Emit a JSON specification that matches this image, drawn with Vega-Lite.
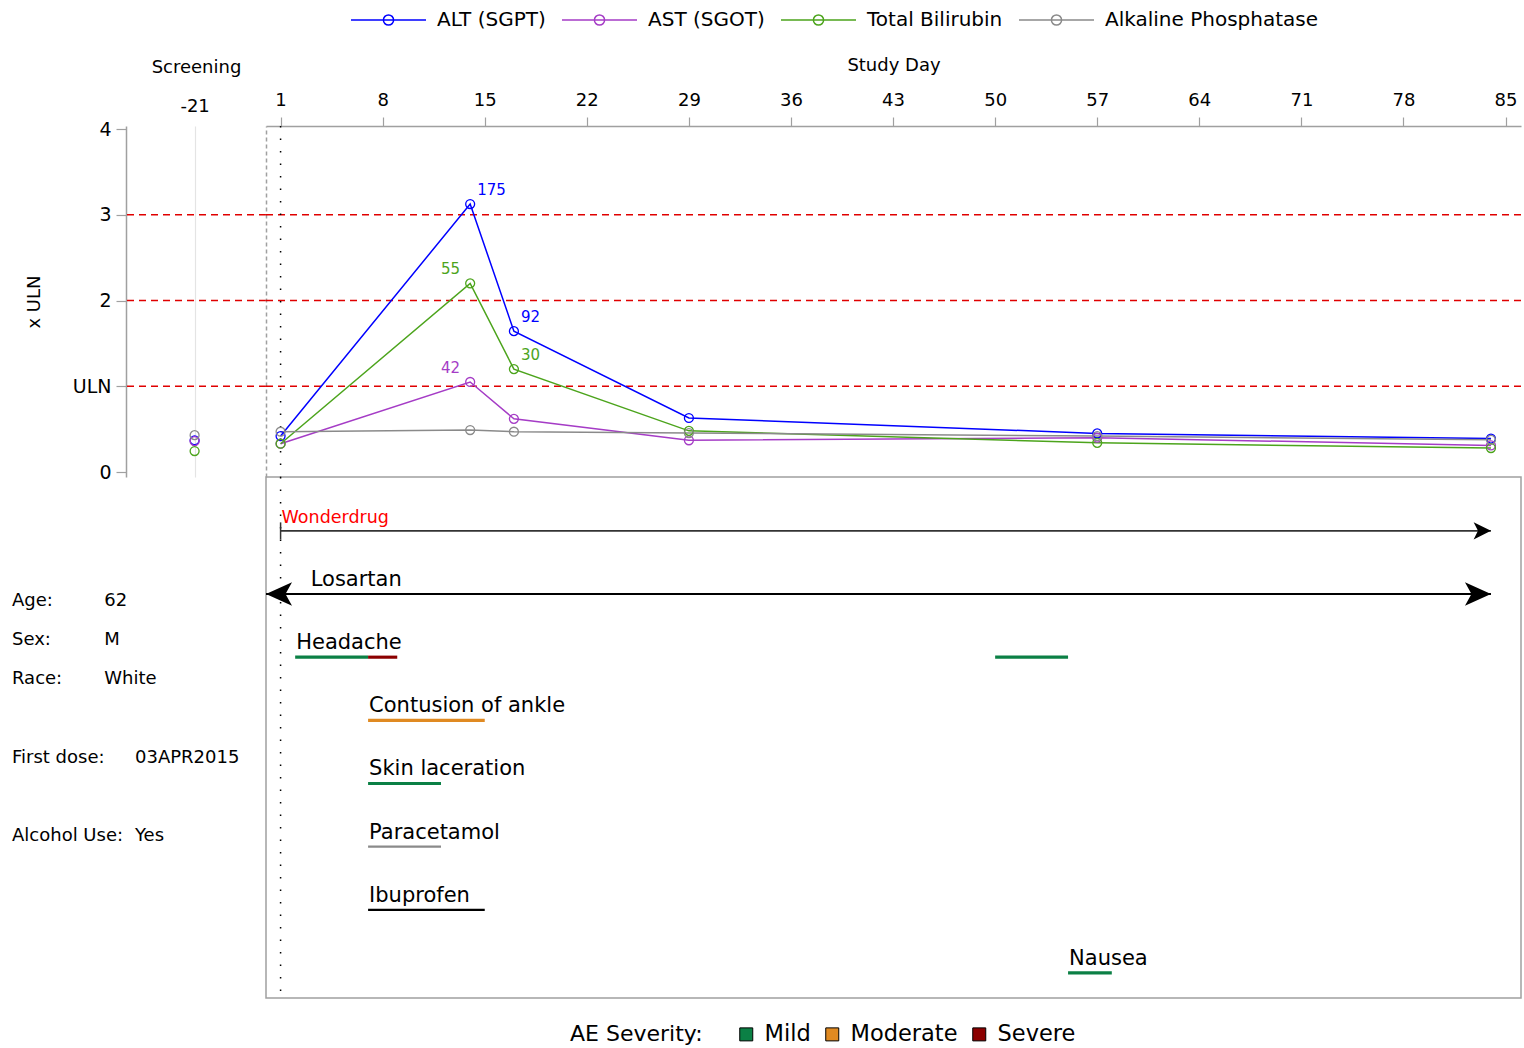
{
  "$schema": "https://vega.github.io/schema/vega-lite/v6.json",
  "background": "white",
  "padding": {"left": 12, "top": 9, "right": 2, "bottom": 2},
  "config": {
    "font": "DejaVu Sans",
    "view": {"stroke": null},
    "axis": {"labelColor": "#000", "titleColor": "#000", "titleFontWeight": "normal", "grid": false},
    "legend": {"labelColor": "#000", "titleColor": "#000"},
    "concat": {"spacing": 0}
  },
  "datasets": {
    "labs": [
      {"test": "ALT (SGPT)", "day": -21, "xuln": 0.37, "result": 21},
      {"test": "ALT (SGPT)", "day": 1, "xuln": 0.42, "result": 24},
      {"test": "ALT (SGPT)", "day": 14, "xuln": 3.125, "result": 175},
      {"test": "ALT (SGPT)", "day": 17, "xuln": 1.643, "result": 92},
      {"test": "ALT (SGPT)", "day": 29, "xuln": 0.63, "result": 35},
      {"test": "ALT (SGPT)", "day": 57, "xuln": 0.45, "result": 25},
      {"test": "ALT (SGPT)", "day": 84, "xuln": 0.39, "result": 22},
      {"test": "AST (SGOT)", "day": -21, "xuln": 0.36, "result": 15},
      {"test": "AST (SGOT)", "day": 1, "xuln": 0.33, "result": 13},
      {"test": "AST (SGOT)", "day": 14, "xuln": 1.05, "result": 42},
      {"test": "AST (SGOT)", "day": 17, "xuln": 0.62, "result": 25},
      {"test": "AST (SGOT)", "day": 29, "xuln": 0.37, "result": 15},
      {"test": "AST (SGOT)", "day": 57, "xuln": 0.4, "result": 16},
      {"test": "AST (SGOT)", "day": 84, "xuln": 0.31, "result": 12},
      {"test": "Total Bilirubin", "day": -21, "xuln": 0.245, "result": 6},
      {"test": "Total Bilirubin", "day": 1, "xuln": 0.33, "result": 8},
      {"test": "Total Bilirubin", "day": 14, "xuln": 2.2, "result": 55},
      {"test": "Total Bilirubin", "day": 17, "xuln": 1.2, "result": 30},
      {"test": "Total Bilirubin", "day": 29, "xuln": 0.48, "result": 12},
      {"test": "Total Bilirubin", "day": 57, "xuln": 0.34, "result": 9},
      {"test": "Total Bilirubin", "day": 84, "xuln": 0.28, "result": 7},
      {"test": "Alkaline Phosphatase", "day": -21, "xuln": 0.43, "result": 52},
      {"test": "Alkaline Phosphatase", "day": 1, "xuln": 0.47, "result": 56},
      {"test": "Alkaline Phosphatase", "day": 14, "xuln": 0.49, "result": 59},
      {"test": "Alkaline Phosphatase", "day": 17, "xuln": 0.47, "result": 56},
      {"test": "Alkaline Phosphatase", "day": 29, "xuln": 0.455, "result": 55},
      {"test": "Alkaline Phosphatase", "day": 57, "xuln": 0.42, "result": 50},
      {"test": "Alkaline Phosphatase", "day": 84, "xuln": 0.375, "result": 45}
    ],
    "refs": [{"level": 1}, {"level": 2}, {"level": 3}],
    "dose1": [{"studyDay": 1}],
    "exposure": [{"item": "Wonderdrug", "start": 1, "end": 84, "ongoing": true}],
    "conmeds": [
      {"item": "Losartan", "start": 0, "end": 84, "priorToStudy": true, "ongoing": true},
      {"item": "Paracetamol", "start": 7, "end": 12, "priorToStudy": false, "ongoing": false},
      {"item": "Ibuprofen", "start": 7, "end": 15, "priorToStudy": false, "ongoing": false}
    ],
    "aes": [
      {"item": "Headache", "severity": "Mild", "start": 2, "end": 7},
      {"item": "Headache", "severity": "Severe", "start": 7, "end": 9},
      {"item": "Headache", "severity": "Mild", "start": 50, "end": 55},
      {"item": "Contusion of ankle", "severity": "Moderate", "start": 7, "end": 15},
      {"item": "Skin laceration", "severity": "Mild", "start": 7, "end": 12},
      {"item": "Nausea", "severity": "Mild", "start": 55, "end": 58}
    ],
    "rowLabels": [
      {"item": "Wonderdrug", "type": "Study drug", "day": 1},
      {"item": "Losartan", "type": "Concomitant medication", "day": 3},
      {"item": "Headache", "type": "Adverse event", "day": 2},
      {"item": "Contusion of ankle", "type": "Adverse event", "day": 7},
      {"item": "Skin laceration", "type": "Adverse event", "day": 7},
      {"item": "Paracetamol", "type": "Concomitant medication", "day": 7},
      {"item": "Ibuprofen", "type": "Concomitant medication", "day": 7},
      {"item": "Nausea", "type": "Adverse event", "day": 55}
    ],
    "demog": [
      {"line": "Age:", "col": "label", "text": "Age:"},
      {"line": "Age:", "col": "value", "text": "62"},
      {"line": "Sex:", "col": "label", "text": "Sex:"},
      {"line": "Sex:", "col": "value", "text": "M"},
      {"line": "Race:", "col": "label", "text": "Race:"},
      {"line": "Race:", "col": "value", "text": "White"},
      {"line": "First dose:", "col": "label", "text": "First dose:"},
      {"line": "First dose:", "col": "value2", "text": "03APR2015"},
      {"line": "Alcohol Use:", "col": "label", "text": "Alcohol Use:"},
      {"line": "Alcohol Use:", "col": "value2", "text": "Yes"}
    ]
  },
  "columns": 2,
  "spacing": 0,
  "bounds": "flush",
  "resolve": {"scale": {"color": "independent"}, "legend": {"color": "independent"}},
  "concat": [
    {
      "width": 140,
      "height": 351,
      "layer": [
        {
          "data": {"name": "refs"},
          "mark": {"type": "rule", "color": "#e00000", "strokeDash": [7, 5], "strokeWidth": 1.5},
          "encoding": {
            "y": {
              "field": "level", "type": "quantitative",
              "scale": {"domain": [-0.058, 4.035], "nice": false, "zero": false},
              "axis": {
                "orient": "left", "values": [0, 1, 2, 3, 4], "format": "d",
                "labelExpr": "datum.value == 1 ? 'ULN' : datum.label",
                "tickSize": 10, "labelPadding": 5, "labelFontSize": 19,
                "domainColor": "#a0a0a0", "domainWidth": 1.5, "tickColor": "#a0a0a0", "tickWidth": 1.2,
                "title": "x ULN", "titleFontSize": 18, "titlePadding": 29, "grid": false
              }
            }
          }
        },
        {
          "data": {"name": "labs"},
          "transform": [{"filter": "datum.day < 0"}],
          "mark": {"type": "point", "filled": false, "size": 80, "strokeWidth": 1.3, "opacity": 1},
          "encoding": {
            "x": {
              "field": "day", "type": "quantitative",
              "scale": {"domain": [-25.9, -15.9], "nice": false, "zero": false},
              "axis": {
                "orient": "top", "values": [-21], "ticks": false, "tickSize": 0, "domain": false,
                "labelExpr": "toString(datum.value)",
                "grid": true, "gridColor": "#e4e4e4", "gridWidth": 1.2,
                "labelPadding": 11, "labelFontSize": 18,
                "title": "Screening", "titleFontSize": 18, "titlePadding": 21
              }
            },
            "y": {"field": "xuln", "type": "quantitative"},
            "color": {
              "field": "test", "type": "nominal",
              "scale": {"domain": ["ALT (SGPT)", "AST (SGOT)", "Total Bilirubin", "Alkaline Phosphatase"], "range": ["#0000ff", "#a53cc6", "#4ca41c", "#8a8a8a"]},
              "legend": null
            }
          }
        }
      ]
    },
    {
      "width": 1255,
      "height": 351,
      "layer": [
        {
          "data": {"name": "refs"},
          "mark": {"type": "rule", "color": "#e00000", "strokeDash": [7, 5], "strokeWidth": 1.5},
          "encoding": {
            "y": {
              "field": "level", "type": "quantitative",
              "scale": {"domain": [-0.058, 4.035], "nice": false, "zero": false},
              "axis": {"labels": false, "ticks": false, "title": null, "grid": false, "domainDash": [4, 3], "domainColor": "#a0a0a0", "domainWidth": 1.5}
            }
          }
        },
        {
          "data": {"name": "dose1"},
          "mark": {"type": "rule", "color": "#000", "strokeDash": [1.5, 11], "strokeWidth": 1.5},
          "encoding": {
            "x": {"field": "studyDay", "type": "quantitative"}
          }
        },
        {
          "data": {"name": "labs"},
          "transform": [{"filter": "datum.day > 0"}],
          "mark": {"type": "line", "strokeWidth": 1.5},
          "encoding": {
            "x": {
              "field": "day", "type": "quantitative",
              "scale": {"domain": [0, 86.06], "nice": false, "zero": false},
              "axis": {
                "orient": "top", "values": [1, 8, 15, 22, 29, 36, 43, 50, 57, 64, 71, 78, 85],
                "title": "Study Day", "tickSize": 9, "labelPadding": 8, "titlePadding": 17,
                "labelFontSize": 18, "titleFontSize": 18, "labelFlush": false, "labelOverlap": false,
                "domainColor": "#a0a0a0", "domainWidth": 1.5, "tickColor": "#a0a0a0", "tickWidth": 1.2, "grid": false
              }
            },
            "y": {"field": "xuln", "type": "quantitative"},
            "color": {
              "field": "test", "type": "nominal",
              "scale": {"domain": ["ALT (SGPT)", "AST (SGOT)", "Total Bilirubin", "Alkaline Phosphatase"], "range": ["#0000ff", "#a53cc6", "#4ca41c", "#8a8a8a"]},
              "legend": {
                "orient": "none", "legendX": 84, "legendY": -117, "direction": "horizontal", "columns": 4,
                "title": null, "labelFontSize": 20, "labelOffset": 65, "columnPadding": 13, "labelLimit": 0,
                "symbolType": "M-1,0H6.5M3.26,0A0.51,0.51,0,0,1,2.24,0A0.51,0.51,0,0,0,3.26,0A0.51,0.51,0,0,0,2.24,0A0.51,0.51,0,0,1,3.26,0",
                "symbolSize": 400, "symbolStrokeWidth": 1.5
              }
            }
          }
        },
        {
          "data": {"name": "labs"},
          "transform": [{"filter": "datum.day > 0"}],
          "mark": {"type": "point", "filled": false, "size": 80, "strokeWidth": 1.3, "opacity": 1},
          "encoding": {
            "x": {"field": "day", "type": "quantitative"},
            "y": {"field": "xuln", "type": "quantitative"},
            "color": {"field": "test", "type": "nominal", "legend": null}
          }
        },
        {
          "data": {"name": "labs"},
          "transform": [{"filter": "datum.day > 0 && datum.xuln > 1 && (datum.test == 'ALT (SGPT)' || datum.day == 17)"}],
          "mark": {"type": "text", "align": "left", "baseline": "middle", "dx": 7, "dy": -14, "fontSize": 15},
          "encoding": {
            "x": {"field": "day", "type": "quantitative"},
            "y": {"field": "xuln", "type": "quantitative"},
            "text": {"field": "result"},
            "color": {"field": "test", "type": "nominal", "legend": null}
          }
        },
        {
          "data": {"name": "labs"},
          "transform": [{"filter": "datum.day > 0 && datum.xuln > 1 && datum.test != 'ALT (SGPT)' && datum.day != 17"}],
          "mark": {"type": "text", "align": "right", "baseline": "middle", "dx": -10, "dy": -14, "fontSize": 15},
          "encoding": {
            "x": {"field": "day", "type": "quantitative"},
            "y": {"field": "xuln", "type": "quantitative"},
            "text": {"field": "result"},
            "color": {"field": "test", "type": "nominal", "legend": null}
          }
        }
      ]
    },
    {
      "width": 140,
      "height": 521,
      "data": {"name": "demog"},
      "mark": {"type": "text", "align": "left", "baseline": "middle", "fontSize": 18, "color": "#000"},
      "encoding": {
        "x": {
          "field": "col", "type": "nominal",
          "scale": {"type": "point", "domain": ["label", "gap1", "gap2", "value", "value2"], "range": [-114, 9], "padding": 0},
          "axis": null
        },
        "y": {
          "field": "line", "type": "nominal",
          "scale": {"type": "point", "domain": ["Age:", "Sex:", "Race:", "gap1", "First dose:", "gap2", "Alcohol Use:"], "range": [124, 359], "padding": 0},
          "axis": null
        },
        "text": {"field": "text"}
      }
    },
    {
      "width": 1255,
      "height": 521,
      "view": {"stroke": "#a0a0a0", "strokeWidth": 1.5},
      "layer": [
        {
          "data": {"name": "dose1"},
          "mark": {"type": "rule", "color": "#000", "strokeDash": [1.5, 11], "strokeWidth": 1.5},
          "encoding": {
            "x": {"field": "studyDay", "type": "quantitative", "scale": {"domain": [0, 86.06], "nice": false, "zero": false}, "axis": null}
          }
        },
        {
          "data": {"name": "exposure"},
          "mark": {"type": "rule", "color": "#333", "strokeWidth": 1.8},
          "encoding": {
            "x": {"field": "start", "type": "quantitative"},
            "x2": {"field": "end"},
            "y": {
              "field": "item", "type": "nominal",
              "scale": {"type": "band", "domain": ["Wonderdrug", "Losartan", "Headache", "Contusion of ankle", "Skin laceration", "Paracetamol", "Ibuprofen", "Nausea"], "paddingInner": 0.95, "paddingOuter": 0.6, "align": 0.69},
              "axis": null
            }
          }
        },
        {
          "data": {"name": "conmeds"},
          "mark": {"type": "rule", "strokeWidth": 2.2},
          "encoding": {
            "x": {"field": "start", "type": "quantitative"},
            "x2": {"field": "end"},
            "y": {"field": "item", "type": "nominal"},
            "stroke": {"field": "item", "type": "nominal", "scale": {"domain": ["Losartan", "Paracetamol", "Ibuprofen"], "range": ["#000000", "#8a8a8a", "#000000"]}, "legend": null}
          }
        },
        {
          "data": {"name": "aes"},
          "mark": {"type": "bar"},
          "encoding": {
            "x": {"field": "start", "type": "quantitative"},
            "x2": {"field": "end"},
            "y": {"field": "item", "type": "nominal"},
            "color": {
              "field": "severity", "type": "nominal",
              "scale": {"domain": ["Mild", "Moderate", "Severe"], "range": ["#0b8045", "#e08a22", "#8b0000"]},
              "legend": {
                "orient": "none", "legendX": 304, "legendY": 546, "direction": "horizontal", "columns": 3,
                "title": "AE Severity:", "titleOrient": "left", "titleFontSize": 22, "titleFontWeight": "normal", "titlePadding": 32,
                "labelFontSize": 22.5, "labelOffset": 7, "columnPadding": 10,
                "symbolType": "square", "symbolSize": 169, "symbolStrokeColor": "#000", "symbolStrokeWidth": 1, "symbolOpacity": 1,
                "encode": {"symbols": {"update": {"stroke": {"value": "#000"}, "strokeWidth": {"value": 1}}}}
              }
            }
          }
        },
        {
          "data": {"name": "exposure"},
          "transform": [{"filter": "datum.ongoing"}],
          "mark": {"type": "point", "shape": "M0,0L-2,-1L-1.5,0L-2,1Z", "size": 300, "filled": true, "color": "#000", "opacity": 1},
          "encoding": {
            "x": {"field": "end", "type": "quantitative"},
            "y": {"field": "item", "type": "nominal"}
          }
        },
        {
          "data": {"name": "exposure"},
          "mark": {"type": "tick", "orient": "vertical", "size": 17, "thickness": 1.5, "color": "#333", "opacity": 1},
          "encoding": {
            "x": {"field": "start", "type": "quantitative"},
            "y": {"field": "item", "type": "nominal"}
          }
        },
        {
          "data": {"name": "conmeds"},
          "transform": [{"filter": "datum.ongoing"}],
          "mark": {"type": "point", "shape": "M0,0L-2,-0.9L-1.5,0L-2,0.9Z", "size": 676, "filled": true, "color": "#000", "opacity": 1},
          "encoding": {
            "x": {"field": "end", "type": "quantitative"},
            "y": {"field": "item", "type": "nominal"}
          }
        },
        {
          "data": {"name": "conmeds"},
          "transform": [{"filter": "datum.priorToStudy"}],
          "mark": {"type": "point", "shape": "M0,0L2,-0.9L1.5,0L2,0.9Z", "size": 676, "filled": true, "color": "#000", "opacity": 1},
          "encoding": {
            "x": {"field": "start", "type": "quantitative"},
            "y": {"field": "item", "type": "nominal"}
          }
        },
        {
          "data": {"name": "rowLabels"},
          "mark": {"type": "text", "align": "left", "baseline": "alphabetic", "dx": 1, "dy": -8},
          "encoding": {
            "x": {"field": "day", "type": "quantitative"},
            "y": {"field": "item", "type": "nominal"},
            "text": {"field": "item"},
            "color": {"condition": {"test": "datum.type == 'Study drug'", "value": "#ff0000"}, "value": "#000"},
            "size": {"condition": {"test": "datum.type == 'Study drug'", "value": 17.5}, "value": 21}
          }
        }
      ]
    }
  ]
}
